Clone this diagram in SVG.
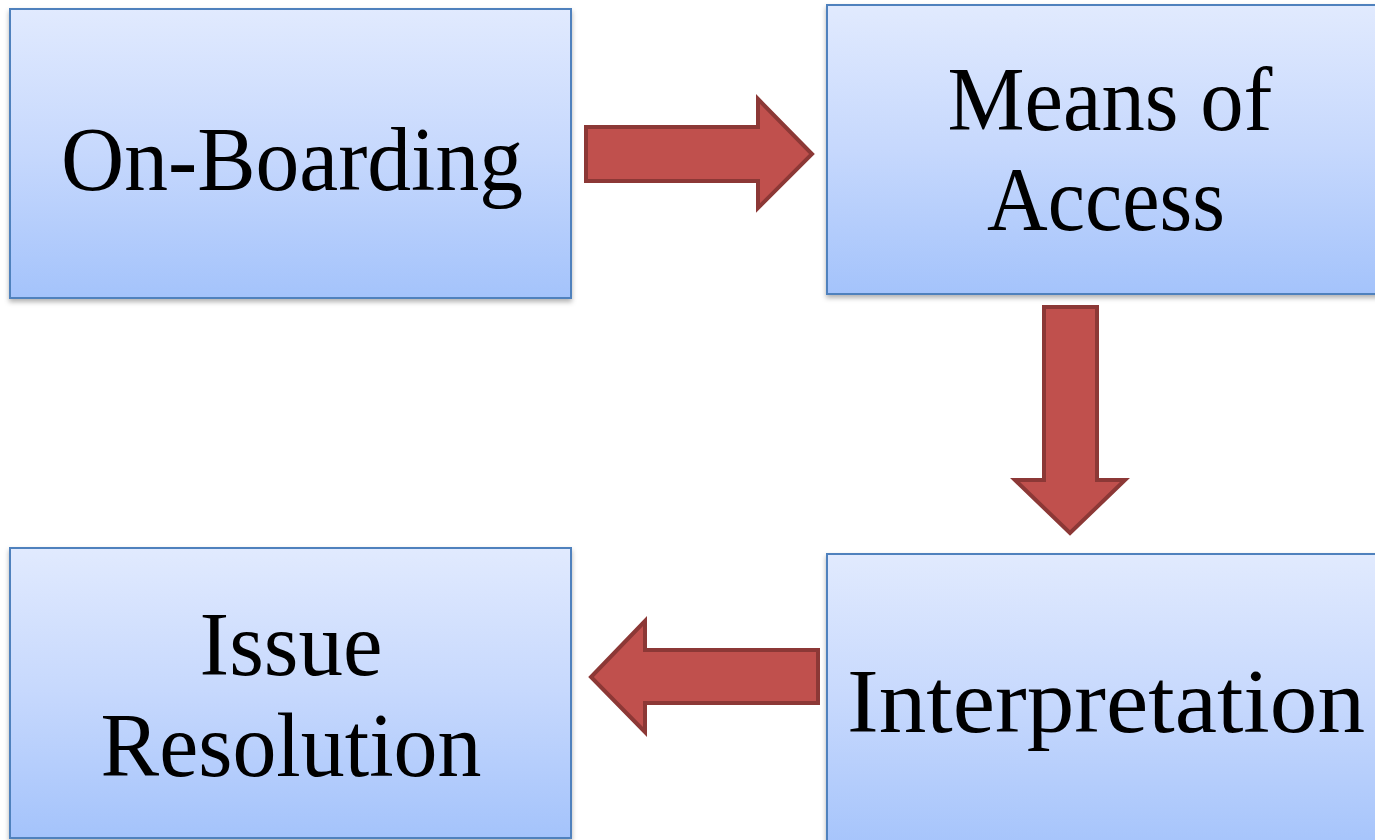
<svg xmlns="http://www.w3.org/2000/svg" width="1375" height="840" viewBox="0 0 1375 840">
<style>
.box{fill:url(#g);stroke:#4F81BD;stroke-width:2;filter:url(#sh)}
.lbl{font-family:"Liberation Serif","DejaVu Serif",serif;font-size:90px;fill:#000;text-anchor:middle}
.arr{fill:#C0504D;stroke:#8C3836;stroke-width:4;stroke-linejoin:miter}
</style>
<defs>
<linearGradient id="g" x1="0" y1="0" x2="0" y2="1">
<stop offset="0" stop-color="#E1EAFE"/>
<stop offset="0.5" stop-color="#C6D8FD"/>
<stop offset="1" stop-color="#A4C3FB"/>
</linearGradient>
<filter id="sh" x="-5%" y="-5%" width="110%" height="115%">
<feDropShadow dx="0" dy="3" stdDeviation="2.5" flood-color="#000" flood-opacity="0.3"/>
</filter>
</defs>
<g id="onboarding">
<rect class="box" x="10" y="9" width="561" height="289"/>
<text class="lbl" x="292" y="190" textLength="462" lengthAdjust="spacingAndGlyphs">On-Boarding</text>
</g>
<g id="means">
<rect class="box" x="827" y="5" width="560" height="289"/>
<text class="lbl" x="1110" y="130" textLength="325" lengthAdjust="spacingAndGlyphs">Means of</text>
<text class="lbl" x="1106" y="230" textLength="238" lengthAdjust="spacingAndGlyphs">Access</text>
</g>
<g id="interpretation">
<rect class="box" x="827" y="554" width="560" height="300"/>
<text class="lbl" x="1106" y="732" textLength="518" lengthAdjust="spacingAndGlyphs">Interpretation</text>
</g>
<g id="issue">
<rect class="box" x="10" y="548" width="561" height="290"/>
<text class="lbl" x="291" y="675" textLength="183" lengthAdjust="spacingAndGlyphs">Issue</text>
<text class="lbl" x="291" y="776" textLength="381" lengthAdjust="spacingAndGlyphs">Resolution</text>
</g>
<g id="connectors">
<polygon class="arr" points="586,127 758,127 758,99 812,154 758,208 758,181 586,181"/>
<polygon class="arr" points="1044,307 1097,307 1097,480 1125,480 1070,533 1015,480 1044,480"/>
<polygon class="arr" points="818,650 645,650 645,621 591,677 645,732 645,703 818,703"/>
</g>
</svg>
